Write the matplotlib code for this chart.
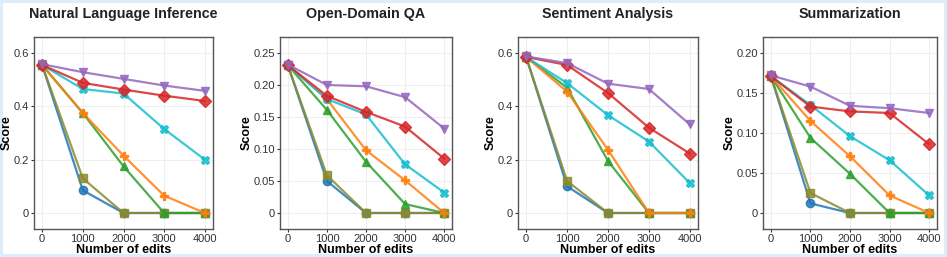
import matplotlib
matplotlib.use("Agg")
import matplotlib.pyplot as plt
from matplotlib.ticker import FuncFormatter

plt.rcParams['font.family'] = ['Liberation Sans', 'DejaVu Sans']

edits = [0, 1000, 2000, 3000, 4000]

titles = ["Natural Language Inference", "Open-Domain QA", "Sentiment Analysis", "Summarization"]
ymax = [0.6, 0.25, 0.6, 0.2]
yticks = [[0, 0.2, 0.4, 0.6],
          [0, 0.05, 0.10, 0.15, 0.20, 0.25],
          [0, 0.2, 0.4, 0.6],
          [0, 0.05, 0.10, 0.15, 0.20]]
decimals = [1, 2, 1, 2]

colors = ['#1f77b4', '#8c8a2e', '#2ca02c', '#ff7f0e', '#17becf', '#d62728', '#9467bd']
markers = ['o', 's', '^', 'P', 'X', 'D', 'v']

# one list per method, order: blue, olive, green, orange, cyan, red, purple
nli = [
    [0.555, 0.085, 0, 0, 0],
    [0.555, 0.13, 0, 0, 0],
    [0.555, 0.375, 0.175, 0, 0],
    [0.555, 0.375, 0.215, 0.065, 0],
    [0.555, 0.465, 0.448, 0.315, 0.2],
    [0.555, 0.488, 0.463, 0.44, 0.42],
    [0.558, 0.528, 0.503, 0.478, 0.458],
]
odqa = [
    [0.231, 0.05, 0, 0, 0],
    [0.231, 0.059, 0, 0, 0],
    [0.231, 0.161, 0.08, 0.014, 0],
    [0.231, 0.178, 0.098, 0.051, 0],
    [0.231, 0.178, 0.154, 0.076, 0.032],
    [0.231, 0.183, 0.158, 0.135, 0.085],
    [0.232, 0.2, 0.198, 0.181, 0.132],
]
sa = [
    [0.585, 0.10, 0, 0, 0],
    [0.585, 0.12, 0, 0, 0],
    [0.585, 0.47, 0.195, 0, 0],
    [0.585, 0.455, 0.237, 0, 0],
    [0.585, 0.487, 0.367, 0.268, 0.112],
    [0.585, 0.555, 0.45, 0.32, 0.223],
    [0.587, 0.562, 0.485, 0.465, 0.332],
]
summ = [
    [0.171, 0.012, 0, 0, 0],
    [0.171, 0.025, 0, 0, 0],
    [0.171, 0.094, 0.049, 0, 0],
    [0.171, 0.115, 0.071, 0.022, 0],
    [0.171, 0.135, 0.096, 0.066, 0.022],
    [0.171, 0.133, 0.127, 0.125, 0.086],
    [0.172, 0.158, 0.134, 0.131, 0.125],
]
tasks = [nli, odqa, sa, summ]


def fmt(d):
    def f(v, pos):
        if abs(v) < 1e-9:
            return "0"
        return "{:.{}f}".format(v, d)
    return f


fig = plt.figure(figsize=(9.47, 2.57), dpi=100)
fig.patch.set_edgecolor('#ddeefa')
fig.patch.set_linewidth(4)

lefts = [34, 280, 518, 763]
rights = [213, 452, 698, 937]
W, H = 947.0, 257.0
for i in range(4):
    ax = fig.add_axes([lefts[i] / W, 1 - 229 / H, (rights[i] - lefts[i]) / W, (229 - 37) / H])
    for j, ys in enumerate(tasks[i]):
        ax.plot(edits, ys, color=colors[j], marker=markers[j], markersize=6,
                linewidth=1.6, alpha=0.85)
    ax.set_xlim(-200, 4200)
    ax.set_ylim(-0.1 * ymax[i], 1.1 * ymax[i])
    ax.set_xticks(edits)
    ax.set_yticks(yticks[i])
    ax.yaxis.set_major_formatter(FuncFormatter(fmt(decimals[i])))
    ax.tick_params(labelsize=8, colors='#333333', length=2.5, width=0.8, pad=1)
    ax.grid(color='#eeeeee', linewidth=0.8)
    ax.set_axisbelow(True)
    for s in ax.spines.values():
        s.set_color('#555555')
        s.set_linewidth(1.0)
    ax.set_title(titles[i], fontsize=10.3, fontweight='bold', pad=14, color='#222222')
    ax.set_xlabel("Number of edits", fontsize=9, fontweight='bold', labelpad=0)
    ax.set_ylabel("Score", fontsize=9, fontweight='bold', labelpad=1)

fig.savefig("out.png", dpi=100)
